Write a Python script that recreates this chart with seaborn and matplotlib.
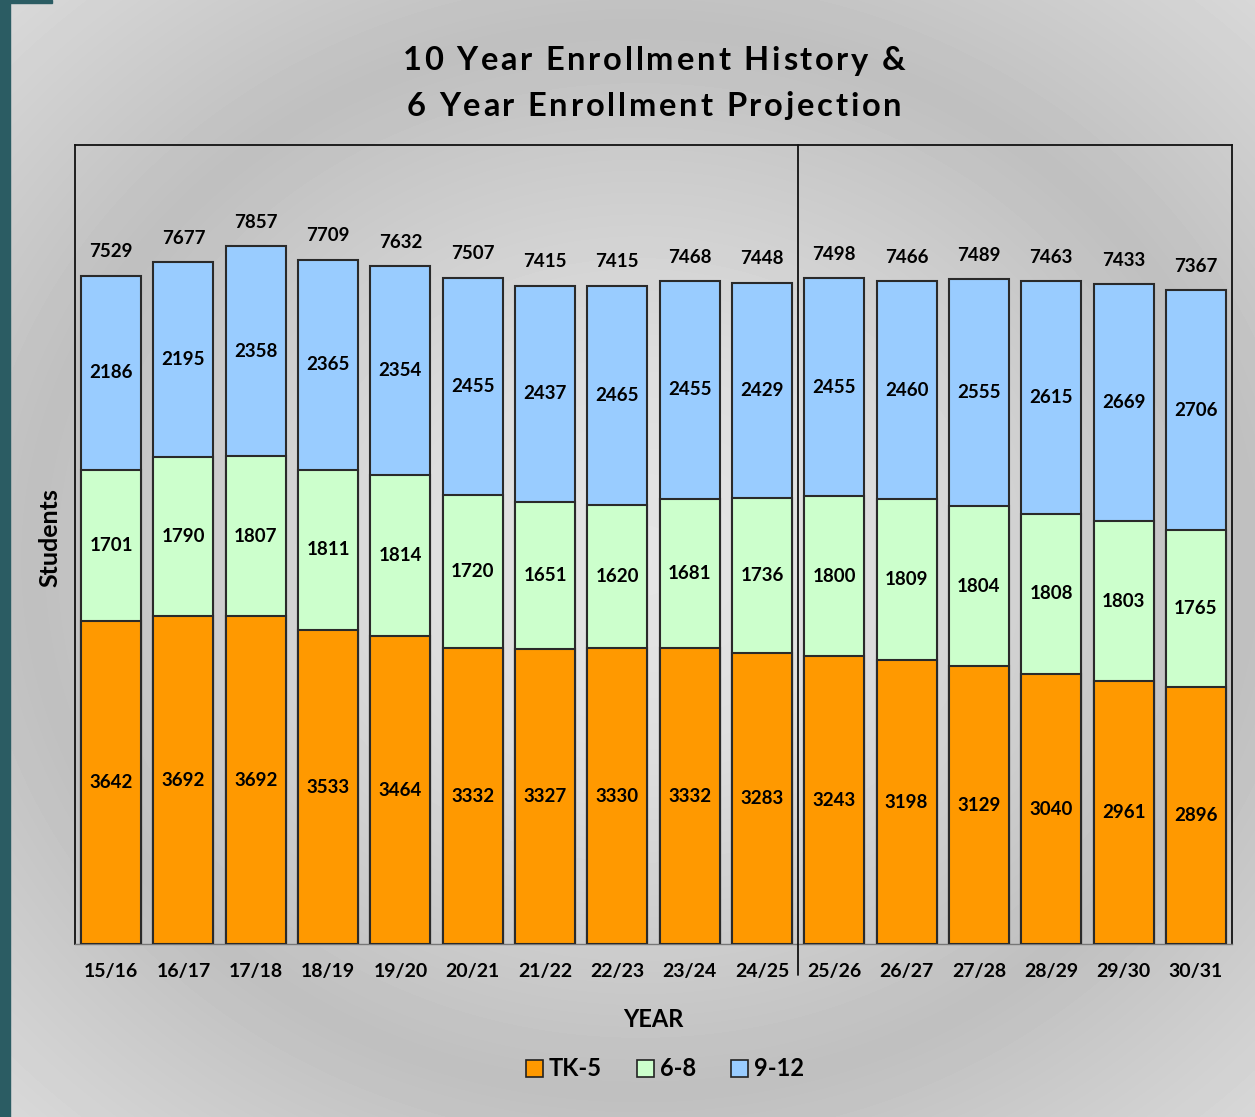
import numpy as np
import pandas as pd
import matplotlib
matplotlib.use("Agg")
import matplotlib.pyplot as plt
import seaborn as sns
from matplotlib.patches import Patch, Rectangle

years = ["15/16", "16/17", "17/18", "18/19", "19/20", "20/21", "21/22", "22/23",
         "23/24", "24/25", "25/26", "26/27", "27/28", "28/29", "29/30", "30/31"]
tk5 = [3642, 3692, 3692, 3533, 3464, 3332, 3327, 3330, 3332, 3283, 3243, 3198, 3129, 3040, 2961, 2896]
g68 = [1701, 1790, 1807, 1811, 1814, 1720, 1651, 1620, 1681, 1736, 1800, 1809, 1804, 1808, 1803, 1765]
g912 = [2186, 2195, 2358, 2365, 2354, 2455, 2437, 2465, 2455, 2429, 2455, 2460, 2555, 2615, 2669, 2706]
totals = [7529, 7677, 7857, 7709, 7632, 7507, 7415, 7415, 7468, 7448, 7498, 7466, 7489, 7463, 7433, 7367]
series_names = ["TK-5", "6-8", "9-12"]
colors = ["#FF9900", "#CCFFCC", "#99CCFF"]
title_lines = ["10 Year Enrollment History &", "6 Year Enrollment Projection"]

sns.set_theme(style="white")
plt.rcParams["font.family"] = ["Lato", "DejaVu Sans"]
plt.rcParams["font.weight"] = "bold"
plt.rcParams["text.color"] = "black"
plt.rcParams["axes.labelcolor"] = "black"
plt.rcParams["xtick.color"] = "black"

W, H = 1255, 1117
fig = plt.figure(figsize=(W / 100, H / 100), dpi=100)

# background radial gradient
bg = fig.add_axes([0, 0, 1, 1], zorder=-10)
yy, xx = np.mgrid[0:H, 0:W]
r = np.sqrt(((xx - 640) / 640.0) ** 2 + ((yy - 560) / 560.0) ** 2)
val = np.interp(r, [0, 0.35, 0.95, 1.45], [0.90, 0.87, 0.75, 0.86])
bg.imshow(val, cmap="gray", vmin=0, vmax=1, extent=[0, W, H, 0], aspect="auto")
bg.add_patch(Rectangle((0, 0), 10, H, color="#2b5c63"))
bg.add_patch(Rectangle((0, 0), 52, 3, color="#2b5c63"))
bg.set_xlim(0, W)
bg.set_ylim(H, 0)
bg.axis("off")

L, R, T, B = 75, 1232, 145, 944
ax = fig.add_axes([L / W, 1 - B / H, (R - L) / W, (B - T) / H])
ax.set_facecolor("none")

df = pd.DataFrame({"year": years, "tk5": tk5, "g68": g68, "g912": g912})
df["c2"] = df["tk5"] + df["g68"]
df["c3"] = df["c2"] + df["g912"]

bw = 0.83
ec = "#2a2a2a"
sns.barplot(data=df, x="year", y="c3", order=years, color=colors[2], width=bw,
            edgecolor=ec, linewidth=1.5, saturation=1, ax=ax, zorder=2)
sns.barplot(data=df, x="year", y="c2", order=years, color=colors[1], width=bw,
            edgecolor=ec, linewidth=1.5, saturation=1, ax=ax, zorder=3)
sns.barplot(data=df, x="year", y="tk5", order=years, color=colors[0], width=bw,
            edgecolor=ec, linewidth=1.5, saturation=1, ax=ax, zorder=4)

fs = 13.5
for i in range(len(years)):
    a, b, c = tk5[i], g68[i], g912[i]
    ax.text(i, a / 2, str(a), ha="center", va="center", fontsize=fs, fontweight="bold", zorder=6)
    ax.text(i, a + b / 2, str(b), ha="center", va="center", fontsize=fs, fontweight="bold", zorder=6)
    ax.text(i, a + b + c / 2, str(c), ha="center", va="center", fontsize=fs, fontweight="bold", zorder=6)
    ax.text(i, a + b + c + 270, str(totals[i]), ha="center", va="center", fontsize=fs,
            fontweight="bold", zorder=6)

ax.set_xlim(-0.5, len(years) - 0.5)
ax.set_ylim(0, 9000)
ax.set_yticks([])
ax.tick_params(axis="x", length=0, pad=14, labelsize=14)
for lab in ax.get_xticklabels():
    lab.set_fontweight("bold")
ax.set_xlabel("YEAR", fontsize=17, fontweight="bold", labelpad=20)
ax.set_ylabel("Students", fontsize=18, fontweight="bold")
ax.yaxis.set_label_coords(-0.012, 0.509)

for s in ["left", "top", "right"]:
    ax.spines[s].set_color("#111111")
    ax.spines[s].set_linewidth(1.3)
    ax.spines[s].set_visible(True)
ax.spines["bottom"].set_color("#777777")
ax.spines["bottom"].set_linewidth(1.0)

ax.plot([9.5, 9.5], [-350, 9000], color="#111111", lw=1.3, clip_on=False, zorder=7)

# title with letter spacing (tracking)
renderer = fig.canvas.get_renderer()


def tracked_text(s, xc, yc, size, track_px):
    def width(t):
        if not t:
            return 0.0
        tmp = fig.text(0, 0, t.replace(" ", "\u00a0"), fontsize=size, fontweight="bold")
        w = tmp.get_window_extent(renderer).width
        tmp.remove()
        return w
    total = width(s) + track_px * (len(s) - 1)
    x0 = xc - total / 2
    for i, ch in enumerate(s):
        if ch == " ":
            continue
        px = x0 + width(s[:i]) + track_px * i
        fig.text(px / W, 1 - yc / H, ch, ha="left", va="center", fontsize=size,
                 fontweight="bold")


tracked_text(title_lines[0], 654, 61, 23.5, 2.8)
tracked_text(title_lines[1], 654, 106, 23.5, 2.8)

handles = [Patch(facecolor=c, edgecolor="#222222", linewidth=1.2) for c in colors]
fig.legend(handles, series_names, loc="center", bbox_to_anchor=(665 / W, 1 - 1069 / H), ncol=3,
           frameon=False, handlelength=0.7, handleheight=0.7, handletextpad=0.25,
           columnspacing=1.5, prop={"weight": "bold", "size": 17})

fig.savefig("out.png", dpi=100)
